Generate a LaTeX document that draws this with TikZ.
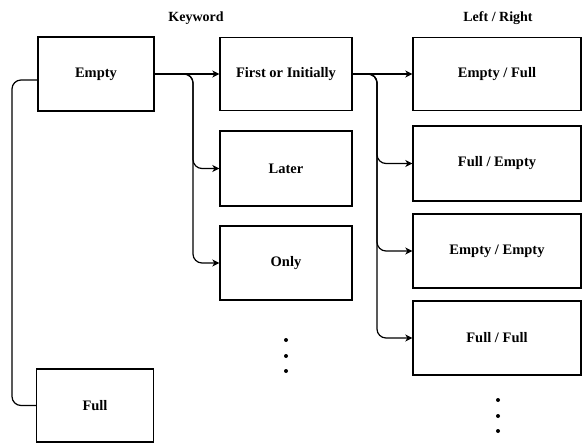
\documentclass[tikz,border=0pt]{standalone}
\usepackage{fontspec}
\setmainfont{Liberation Serif}
\usetikzlibrary{arrows.meta}

\tikzset{
	box/.style={draw, line width=1.3pt, minimum width=#1, inner sep=0pt,
		font=\bfseries\fontsize{14.5}{17}\selectfont},
	head/.style={font=\bfseries\fontsize{14}{17}\selectfont},
	link/.style={line width=1.2pt, rounded corners=9pt},
	tip/.style={-{Stealth[length=7pt,width=7pt,inset=2pt]}},
	dot/.style={circle, fill, inner sep=0pt, minimum size=4pt}
}

\begin{document}
\begin{tikzpicture}[x=1pt,y=-1pt]
	\useasboundingbox (0,0) rectangle (583,443);
	% column heads
	\node[head] (kwhead) at (196,18) {Keyword};
	\node[head] (lrhead) at (498,18) {Left / Right};
	% first column
	\node[box=116pt, minimum height=74pt] (empty) at (96,74) {Empty};
	\node[box=117pt, minimum height=73pt] (full) at (95,405.5) {Full};
	% keyword column
	\node[box=132pt, minimum height=73pt] (first) at (286,74) {First or Initially};
	\node[box=132pt, minimum height=75pt] (later) at (286,168.5) {Later};
	\node[box=132pt, minimum height=74pt] (only) at (286,263) {Only};
	\node[dot] (kd1) at (286,340) {};
	\node[dot] (kd2) at (286,356) {};
	\node[dot] (kd3) at (286,371) {};
	% left / right column
	\node[box=168pt, minimum height=73pt] (ef) at (497,74) {Empty / Full};
	\node[box=168pt, minimum height=75pt] (fe) at (497,163.5) {Full / Empty};
	\node[box=168pt, minimum height=74pt] (ee) at (497,251) {Empty / Empty};
	\node[box=168pt, minimum height=74pt] (ff) at (497,338) {Full / Full};
	\node[dot] (rd1) at (498,400) {};
	\node[dot] (rd2) at (498,416) {};
	\node[dot] (rd3) at (498,431) {};
	% buses
	\coordinate (busa) at (193,0);
	\coordinate (busb) at (377,0);
	\coordinate (busl) at (12,0);
	\coordinate (eout) at ([yshift=-6pt]empty.west);
	% empty / full
	\draw[link] (eout) -- (eout -| busl) -- (full.west -| busl) -- (full.west);
	% empty -> keyword
	\draw[link,tip] (empty.east) -- (first.west);
	\draw[link,tip] (empty.east) -- (empty.east -| busa) -- (later.west -| busa) -- (later.west);
	\draw[link,tip] (empty.east) -- (empty.east -| busa) -- (only.west -| busa) -- (only.west);
	% first -> left / right
	\draw[link,tip] (first.east) -- (ef.west);
	\draw[link,tip] (first.east) -- (first.east -| busb) -- (fe.west -| busb) -- (fe.west);
	\draw[link,tip] (first.east) -- (first.east -| busb) -- (ee.west -| busb) -- (ee.west);
	\draw[link,tip] (first.east) -- (first.east -| busb) -- (ff.west -| busb) -- (ff.west);
\end{tikzpicture}
\end{document}
